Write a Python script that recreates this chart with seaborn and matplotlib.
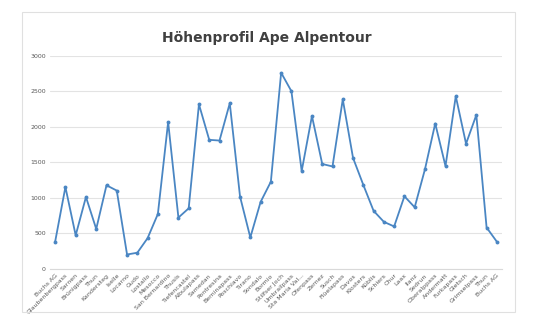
import matplotlib
matplotlib.use("Agg")
import matplotlib.pyplot as plt
import seaborn as sns
import pandas as pd
from matplotlib.patches import Rectangle

orte = ["Buchs AG", "Glaubenbergpass", "Sarnen", "Brünigpass", "Thun", "Kandersteg",
        "Iselle", "Locarno", "Gudo", "Lostallo", "Mesocco", "San Bernardino", "Thusis",
        "Tiefencastel", "Albulapass", "Samedan", "Pontresina", "Berninapass", "Poschiavo",
        "Tirano", "Sondalo", "Bormio", "Stilfser Joch", "Umbrailpass", "Sta Maria Val...",
        "Ofenpass", "Zernez", "Susch", "Flüelapass", "Davos", "Klosters", "Küblis",
        "Schiers", "Chur", "Laax", "Ilanz", "Sedrun", "Oberalppass", "Andermatt",
        "Furkapass", "Gletsch", "Grimselpass", "Thun", "Buchs AG"]
hoehe = [380, 1150, 470, 1010, 560, 1175, 1100, 200, 225, 430, 770, 2065, 720, 850,
         2315, 1815, 1805, 2330, 1015, 440, 940, 1225, 2760, 2500, 1375, 2150, 1475,
         1440, 2385, 1560, 1180, 815, 660, 595, 1020, 865, 1400, 2045, 1445, 2430,
         1760, 2165, 580, 380]
yticks = [0, 500, 1000, 1500, 2000, 2500, 3000]

df = pd.DataFrame({"idx": range(len(orte)), "hoehe": hoehe})

sns.set_style("white")
fig = plt.figure(figsize=(5.33, 3.36), dpi=100)
ax = fig.add_axes([50/533, 67.3/336, 452/533, 213/336])

sns.lineplot(data=df, x="idx", y="hoehe", ax=ax, color="#4a86c3", linewidth=1.3,
             marker="o", markersize=2.8, markeredgewidth=0)

ax.set_xlim(-0.5, len(orte) - 0.5)
ax.set_ylim(0, 3000)
ax.set_yticks(yticks)
ax.set_yticklabels([str(v) for v in yticks], fontsize=4.5, color="#595959")
ax.set_xticks(range(len(orte)))
ax.set_xticklabels(orte, rotation=45, ha="right", rotation_mode="anchor",
                   fontsize=4.5, color="#595959")
ax.tick_params(axis="both", length=0, pad=3)
ax.grid(axis="y", color="#e3e3e3", linewidth=0.8)
ax.set_axisbelow(True)
for s in ["top", "right", "left"]:
    ax.spines[s].set_visible(False)
ax.spines["bottom"].set_color("#d9d9d9")
ax.spines["bottom"].set_linewidth(0.8)
ax.set_xlabel("")
ax.set_ylabel("")

fig.text(0.5, 1 - 38/336, "Höhenprofil Ape Alpentour", ha="center", va="center",
         fontsize=10, fontweight="bold", color="#404040")

fig.patches.append(Rectangle((22/533, 1 - 312/336), (515-22)/533, (312-12)/336,
                             transform=fig.transFigure, fill=False,
                             edgecolor="#e0e0e0", linewidth=0.8))

fig.savefig("out.png", dpi=100)
